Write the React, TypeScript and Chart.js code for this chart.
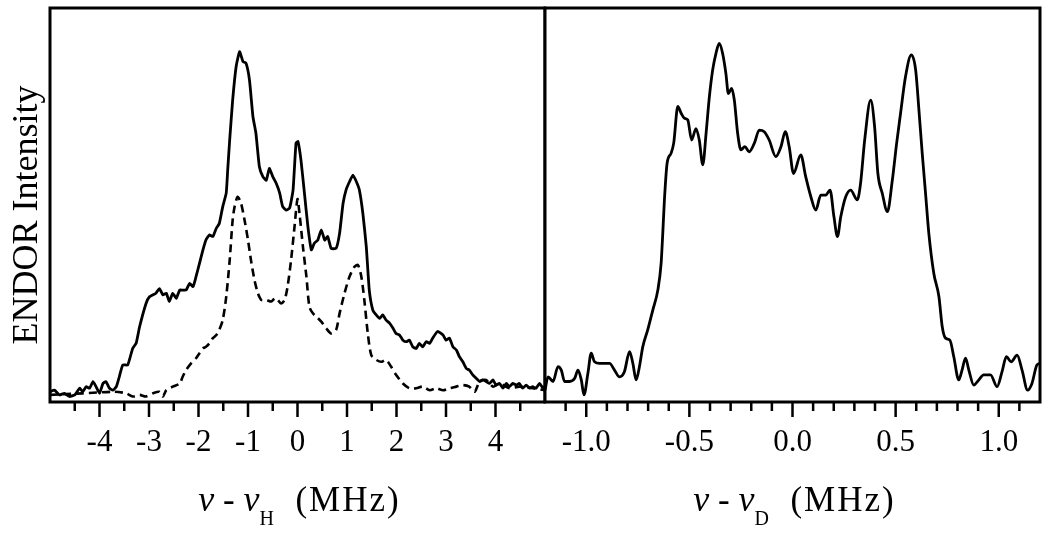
import { useEffect, useRef } from 'react';
import { Chart, registerables } from 'chart.js';

Chart.register(...registerables);

const FONT = '"Liberation Serif", "Times New Roman", serif';

// Left panel: nu - nu_H (MHz)
const H_SOLID_X = [-5.0, -4.91, -4.81, -4.71, -4.61, -4.5, -4.4, -4.34, -4.27, -4.2, -4.13, -4.07, -4.0, -3.93, -3.87, -3.8, -3.73, -3.66, -3.6, -3.53, -3.43, -3.33, -3.26, -3.19, -3.06, -2.99, -2.86, -2.79, -2.72, -2.65, -2.59, -2.52, -2.45, -2.38, -2.32, -2.25, -2.18, -2.11, -2.05, -1.98, -1.91, -1.85, -1.78, -1.71, -1.64, -1.58, -1.51, -1.44, -1.41, -1.37, -1.31, -1.24, -1.17, -1.1, -1.04, -0.97, -0.9, -0.84, -0.77, -0.7, -0.63, -0.57, -0.5, -0.43, -0.36, -0.3, -0.23, -0.16, -0.09, -0.03, 0.01, 0.07, 0.14, 0.21, 0.28, 0.34, 0.41, 0.48, 0.55, 0.61, 0.68, 0.78, 0.85, 0.92, 0.98, 1.05, 1.12, 1.19, 1.25, 1.32, 1.39, 1.45, 1.52, 1.59, 1.66, 1.72, 1.79, 1.86, 1.93, 1.99, 2.06, 2.13, 2.2, 2.26, 2.33, 2.4, 2.46, 2.53, 2.6, 2.67, 2.73, 2.83, 2.94, 3.0, 3.07, 3.14, 3.21, 3.27, 3.34, 3.41, 3.47, 3.54, 3.61, 3.68, 3.74, 3.81, 3.88, 3.95, 4.01, 4.08, 4.15, 4.22, 4.28, 4.35, 4.42, 4.48, 4.55, 4.62, 4.69, 4.75, 4.82, 4.89, 4.96, 5.0];
const H_SOLID_Y = [2.6, 3.0, 1.8, 2.2, 1.4, 1.8, 3.5, 2.6, 3.9, 3.5, 5.2, 3.9, 2.2, 4.7, 5.2, 3.5, 3.0, 3.9, 6.4, 9.4, 9.4, 13.6, 14.9, 19.1, 25.0, 26.7, 27.6, 28.8, 27.2, 27.6, 25.5, 27.6, 26.3, 28.4, 28.4, 28.4, 30.1, 29.3, 31.8, 35.2, 38.6, 41.1, 42.4, 42.0, 44.1, 45.3, 49.6, 53.0, 58.9, 66.5, 76.6, 85.1, 88.9, 86.4, 86.0, 81.7, 72.4, 68.2, 59.7, 57.2, 56.3, 59.3, 57.2, 55.5, 53.0, 49.6, 48.7, 49.2, 53.8, 65.7, 66.1, 61.4, 53.0, 44.5, 38.6, 40.3, 41.1, 43.7, 41.1, 42.0, 39.0, 39.0, 42.8, 50.4, 53.8, 55.9, 57.6, 55.9, 53.8, 47.9, 39.4, 28.4, 23.4, 22.1, 21.2, 22.1, 20.8, 20.0, 18.7, 17.4, 17.0, 15.7, 15.3, 15.7, 14.0, 13.6, 14.9, 14.0, 15.3, 14.9, 16.2, 17.9, 17.0, 15.7, 16.2, 14.0, 13.2, 11.5, 10.2, 8.5, 8.1, 6.9, 6.0, 5.2, 5.6, 5.2, 4.7, 5.6, 4.3, 4.7, 3.5, 4.7, 3.9, 4.7, 4.3, 4.7, 3.5, 4.3, 3.5, 3.9, 3.5, 4.7, 3.5, 4.0];

const H_DASH_X = [-5.0, -4.34, -3.7, -3.46, -3.33, -3.19, -3.06, -2.92, -2.79, -2.72, -2.65, -2.52, -2.38, -2.32, -2.25, -2.15, -2.05, -1.98, -1.91, -1.85, -1.78, -1.71, -1.64, -1.58, -1.51, -1.44, -1.37, -1.31, -1.27, -1.21, -1.14, -1.07, -1.0, -0.94, -0.87, -0.8, -0.73, -0.63, -0.53, -0.46, -0.4, -0.33, -0.26, -0.2, -0.13, -0.06, 0.0, 0.04, 0.11, 0.18, 0.24, 0.31, 0.38, 0.48, 0.58, 0.68, 0.78, 0.85, 0.95, 1.05, 1.15, 1.22, 1.29, 1.35, 1.42, 1.49, 1.59, 1.69, 1.79, 1.89, 1.99, 2.13, 2.26, 2.4, 2.53, 2.67, 2.8, 2.94, 3.07, 3.21, 3.34, 3.47, 3.58, 3.68, 3.81, 3.95, 4.08, 4.28, 4.48, 4.75, 5.0];
const H_DASH_Y = [1.8, 2.2, 2.6, 2.2, 1.4, 1.8, 1.4, 2.2, 2.6, 1.4, 3.0, 3.9, 4.7, 6.4, 8.1, 9.8, 11.1, 12.4, 13.6, 14.0, 14.9, 16.2, 17.0, 18.3, 20.8, 26.7, 36.0, 46.2, 49.6, 52.1, 50.4, 46.2, 41.1, 36.0, 31.0, 27.6, 25.9, 25.9, 25.5, 26.3, 25.9, 25.0, 25.9, 29.3, 36.0, 44.5, 51.5, 47.9, 39.4, 31.8, 24.2, 22.5, 21.7, 20.4, 18.7, 17.4, 18.3, 22.5, 27.6, 31.8, 34.3, 34.8, 31.8, 25.9, 17.4, 11.9, 10.7, 10.2, 10.7, 9.0, 6.9, 4.7, 3.5, 3.5, 3.9, 3.0, 3.5, 3.0, 3.5, 3.9, 4.3, 3.9, 2.6, 5.2, 5.6, 3.9, 4.7, 3.5, 3.9, 3.5, 3.0];

// Right panel: nu - nu_D (MHz)
const D_X = [-1.2, -1.185, -1.161, -1.137, -1.121, -1.105, -1.081, -1.056, -1.04, -1.024, -1.011, -0.992, -0.976, -0.96, -0.935, -0.911, -0.887, -0.863, -0.839, -0.815, -0.79, -0.774, -0.758, -0.742, -0.726, -0.702, -0.677, -0.653, -0.637, -0.629, -0.621, -0.608, -0.589, -0.576, -0.556, -0.54, -0.524, -0.508, -0.489, -0.468, -0.452, -0.435, -0.419, -0.403, -0.387, -0.371, -0.355, -0.339, -0.323, -0.311, -0.295, -0.282, -0.266, -0.25, -0.231, -0.21, -0.185, -0.161, -0.137, -0.113, -0.081, -0.056, -0.035, -0.016, 0.005, 0.04, 0.064, 0.089, 0.113, 0.137, 0.161, 0.182, 0.201, 0.218, 0.234, 0.258, 0.282, 0.314, 0.33, 0.35, 0.379, 0.398, 0.414, 0.435, 0.46, 0.484, 0.505, 0.524, 0.548, 0.576, 0.597, 0.613, 0.629, 0.645, 0.661, 0.685, 0.71, 0.726, 0.742, 0.763, 0.782, 0.806, 0.822, 0.839, 0.855, 0.879, 0.903, 0.927, 0.96, 0.992, 1.016, 1.037, 1.06, 1.089, 1.113, 1.14, 1.161, 1.185, 1.2];
const D_Y = [3.0, 6.4, 5.2, 9.0, 8.1, 5.2, 5.2, 6.0, 8.1, 5.6, 1.8, 7.3, 12.4, 10.2, 9.8, 9.8, 9.8, 8.1, 6.4, 7.7, 12.8, 9.8, 5.6, 9.0, 14.0, 18.3, 23.4, 28.4, 35.2, 42.8, 51.3, 60.6, 63.1, 65.7, 75.0, 73.3, 72.0, 71.6, 66.5, 69.4, 66.5, 60.2, 68.2, 77.5, 84.3, 88.5, 91.0, 88.5, 83.4, 78.3, 79.6, 76.6, 68.2, 64.0, 64.8, 63.5, 65.7, 69.0, 68.6, 66.5, 62.3, 64.8, 68.6, 64.8, 58.0, 62.7, 57.2, 52.1, 48.7, 52.5, 52.5, 53.8, 47.0, 42.0, 47.0, 52.1, 53.8, 51.3, 55.5, 66.5, 76.6, 69.9, 58.0, 53.0, 48.3, 56.3, 65.7, 73.3, 82.6, 88.1, 84.3, 74.1, 63.1, 53.0, 42.8, 32.7, 26.7, 19.1, 16.2, 15.7, 11.5, 5.6, 8.1, 11.1, 8.1, 4.3, 5.6, 6.9, 6.9, 3.9, 7.7, 11.5, 10.2, 11.9, 8.1, 3.0, 4.7, 9.4, 9.8];

// Axis ranges and tick marks
const H_RANGE = [-5, 5];
const D_RANGE = [-1.2, 1.2];
const H_MAJOR_TICKS = [-4, -3, -2, -1, 0, 1, 2, 3, 4];
const H_MINOR_TICKS = [-4.5, -3.5, -2.5, -1.5, -0.5, 0.5, 1.5, 2.5, 3.5, 4.5];
const D_MAJOR_TICKS = [-1.0, -0.5, 0.0, 0.5, 1.0];
const D_MINOR_TICKS = [-1.1, -0.9, -0.8, -0.7, -0.6, -0.4, -0.3, -0.2, -0.1, 0.1, 0.2, 0.3, 0.4, 0.6, 0.7, 0.8, 0.9, 1.1];

const Y_TITLE = 'ENDOR Intensity';
const X_TITLE_MAIN = 'ν';
const H_SUB = 'H';
const D_SUB = 'D';

function pts(xs: number[], ys: number[]) {
  return xs.map((x, i) => ({ x, y: ys[i] }));
}

function framePlugin(major: number[], minor: number[], sub: string, yTitle?: string) {
  return {
    id: 'frameTicks',
    afterDraw(chart: any) {
      const { ctx, chartArea: a, scales } = chart;
      const xs = scales.x;
      ctx.save();
      ctx.strokeStyle = '#000';
      ctx.lineWidth = 3;
      ctx.strokeRect(a.left, a.top, a.right - a.left, a.bottom - a.top);
      ctx.lineWidth = 2.5;
      ctx.beginPath();
      for (const v of major) {
        const px = xs.getPixelForValue(v);
        ctx.moveTo(px, a.bottom);
        ctx.lineTo(px, a.bottom + 15);
      }
      for (const v of minor) {
        const px = xs.getPixelForValue(v);
        ctx.moveTo(px, a.bottom);
        ctx.lineTo(px, a.bottom + 9);
      }
      ctx.stroke();

      // x-axis title with subscript
      ctx.fillStyle = '#000';
      ctx.textAlign = 'left';
      ctx.textBaseline = 'alphabetic';
      const big = `35px ${FONT}`;
      const ital = `italic 36px ${FONT}`;
      const small = `20px ${FONT}`;
      const pieces = [
        { t: X_TITLE_MAIN, f: ital, dy: 0, ls: 0 },
        { t: ' - ', f: big, dy: 0, ls: 0 },
        { t: X_TITLE_MAIN, f: ital, dy: 0, ls: 0 },
        { t: sub, f: small, dy: 14, ls: 0 },
        { t: '  (MHz)', f: big, dy: 0, ls: 2 },
      ];
      let total = 0;
      const widths = pieces.map((p) => {
        ctx.font = p.f;
        (ctx as any).letterSpacing = `${p.ls}px`;
        const w = ctx.measureText(p.t).width;
        total += w;
        return w;
      });
      let x = xs.getPixelForValue(0) + 2 - total / 2;
      const base = 511;
      pieces.forEach((p, i) => {
        ctx.font = p.f;
        (ctx as any).letterSpacing = `${p.ls}px`;
        ctx.fillText(p.t, x, base + p.dy);
        x += widths[i];
      });
      (ctx as any).letterSpacing = '0px';

      if (yTitle) {
        ctx.save();
        ctx.translate(37, 215);
        ctx.rotate(-Math.PI / 2);
        ctx.font = `36px ${FONT}`;
        ctx.textAlign = 'center';
        ctx.fillText(yTitle, 0, 0);
        ctx.restore();
      }
      ctx.restore();
    },
  };
}

function makeOptions(range: number[], step: number, fmt: (v: number) => string, pad: any) {
  return {
    animation: false as const,
    responsive: false,
    layout: { padding: pad },
    plugins: { legend: { display: false }, tooltip: { enabled: false } },
    elements: { point: { radius: 0 } },
    scales: {
      x: {
        type: 'linear' as const,
        min: range[0],
        max: range[1],
        grid: { display: false, drawTicks: false },
        border: { display: false },
        ticks: {
          stepSize: step,
          includeBounds: false,
          autoSkip: false,
          maxRotation: 0,
          minRotation: 0,
          padding: 22,
          color: '#000',
          font: { family: FONT, size: 31 },
          callback: (v: any) => fmt(Number(v)),
        },
        afterFit: (s: any) => {
          s.height = 131;
          s.paddingLeft = 0;
          s.paddingRight = 0;
        },
      },
      y: { display: false, min: 0, max: 100 },
    },
  };
}

export default function App() {
  const leftRef = useRef<HTMLCanvasElement>(null);
  const rightRef = useRef<HTMLCanvasElement>(null);

  useEffect(() => {
    const left = new Chart(leftRef.current!, {
      type: 'line',
      data: {
        datasets: [
          {
            data: pts(H_DASH_X, H_DASH_Y),
            borderColor: '#000',
            borderWidth: 2.6,
            borderDash: [8, 5],
            tension: 0.25,
            pointRadius: 0,
          },
          {
            data: pts(H_SOLID_X, H_SOLID_Y),
            borderColor: '#000',
            borderWidth: 2.8,
            tension: 0.15,
            pointRadius: 0,
          },
        ],
      },
      options: makeOptions(
        H_RANGE,
        1,
        (v) => (Math.abs(v) < 4.5 ? String(Math.round(v)) : ''),
        { left: 50, right: 1, top: 8, bottom: 0 }
      ) as any,
      plugins: [framePlugin(H_MAJOR_TICKS, H_MINOR_TICKS, H_SUB, Y_TITLE)],
    });

    const right = new Chart(rightRef.current!, {
      type: 'line',
      data: {
        datasets: [
          {
            data: pts(D_X, D_Y),
            borderColor: '#000',
            borderWidth: 2.8,
            cubicInterpolationMode: 'monotone',
            pointRadius: 0,
          },
        ],
      },
      options: makeOptions(
        D_RANGE,
        0.5,
        (v) => {
          const r = Math.round(v * 2) / 2;
          if (Math.abs(v - r) > 1e-6 || Math.abs(r) > 1.05) return '';
          return Math.abs(r) < 1e-9 ? '0.0' : r.toFixed(1);
        },
        { left: 5, right: 10, top: 8, bottom: 0 }
      ) as any,
      plugins: [framePlugin(D_MAJOR_TICKS, D_MINOR_TICKS, D_SUB)],
    });

    return () => {
      left.destroy();
      right.destroy();
    };
  }, []);

  return (
    <div style={{ position: 'absolute', left: 0, top: 0, width: 1050, height: 533, background: '#fff', overflow: 'hidden' }}>
      <canvas ref={leftRef} width={546} height={533} style={{ position: 'absolute', left: 0, top: 0, display: 'block' }} />
      <canvas ref={rightRef} width={510} height={533} style={{ position: 'absolute', left: 540, top: 0, display: 'block' }} />
    </div>
  );
}
